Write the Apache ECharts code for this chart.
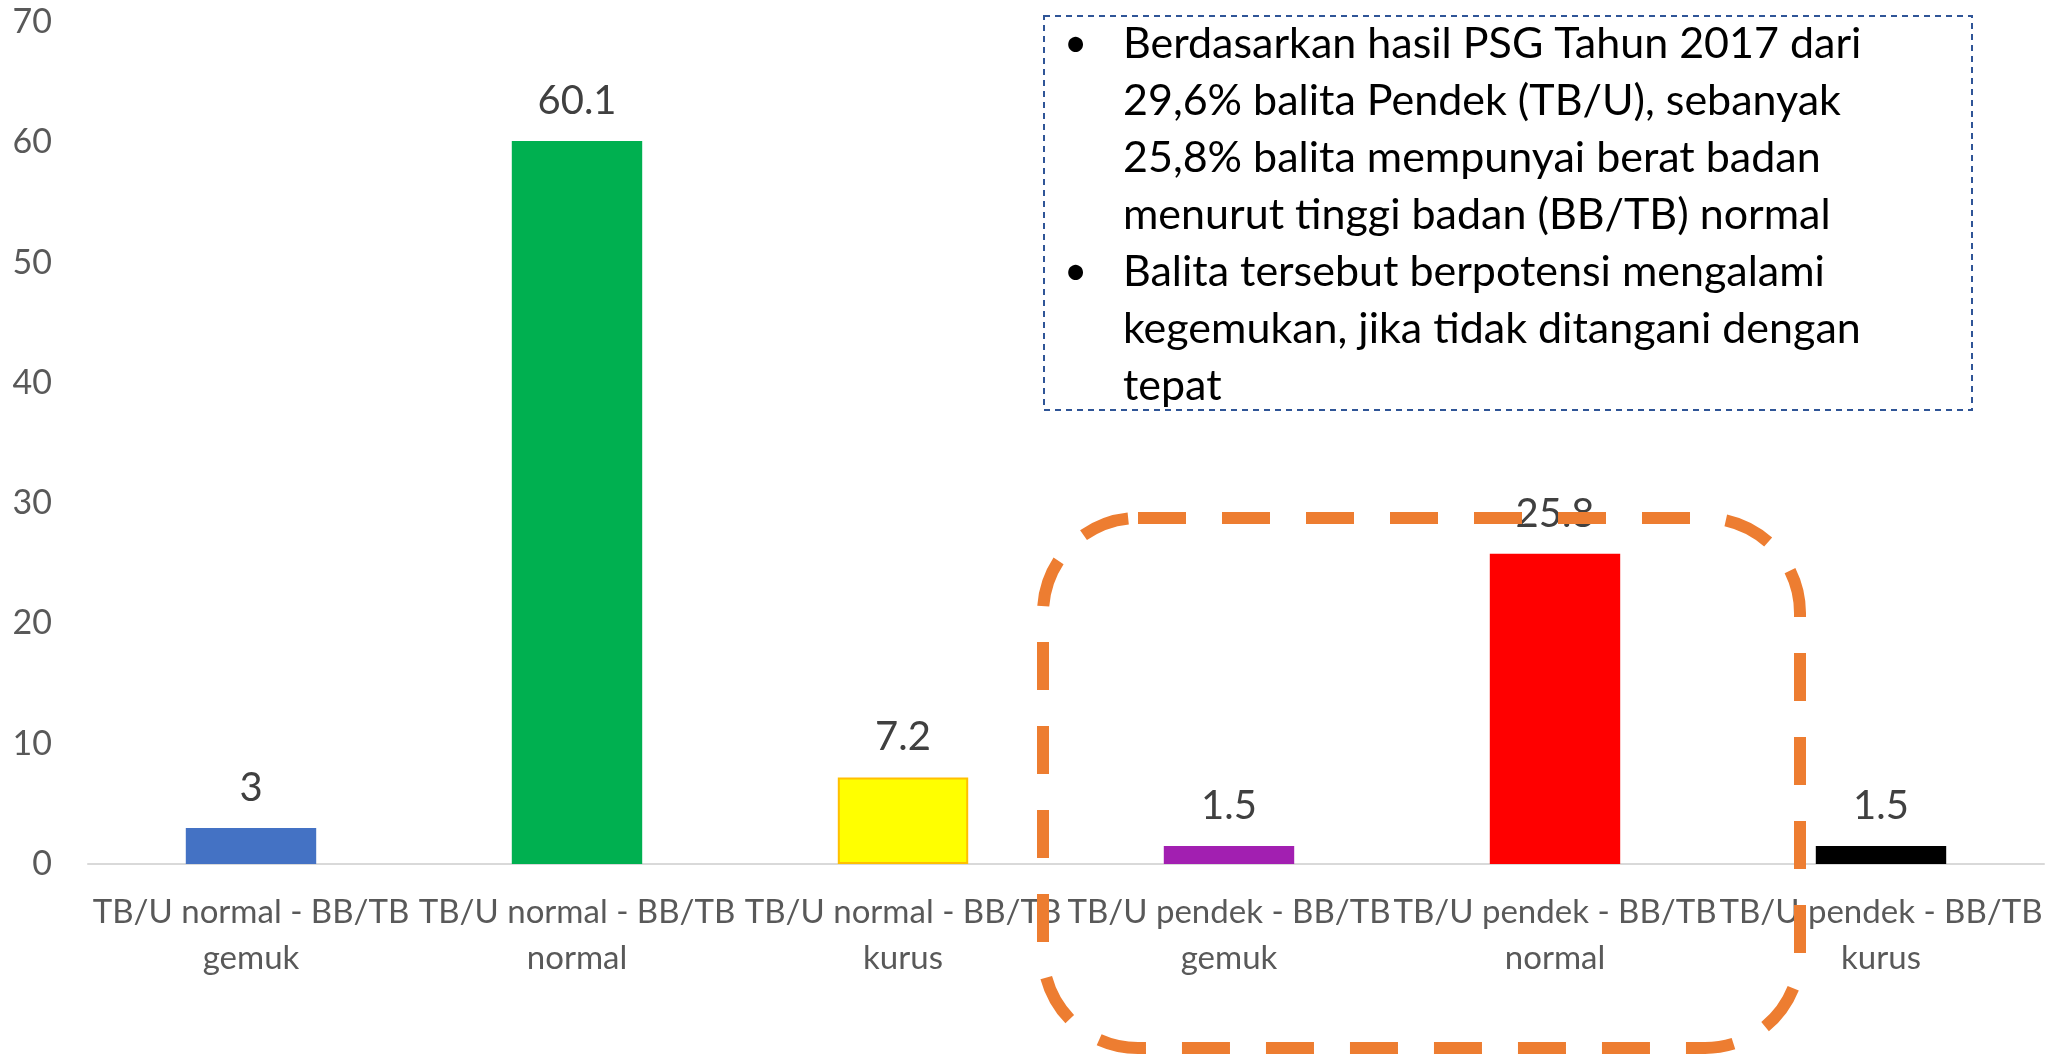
<!DOCTYPE html>
<html><head><meta charset="utf-8">
<script src="https://cdn.jsdelivr.net/npm/echarts@6/dist/echarts.min.js"></script>
<style>html,body{margin:0;padding:0;background:#fff}#c{width:2054px;height:1056px}</style>
</head><body><div id="c"></div>
<script>
const categories = [
  "TB/U normal - BB/TB gemuk",
  "TB/U normal - BB/TB normal",
  "TB/U normal - BB/TB kurus",
  "TB/U pendek - BB/TB gemuk",
  "TB/U pendek - BB/TB normal",
  "TB/U pendek - BB/TB kurus"
];
const values = [3, 60.1, 7.2, 1.5, 25.8, 1.5];
const barColors = ["#4472C4", "#00B050", "#FFFF00", "#A21FB1", "#FF0000", "#000000"];
const yTicks = [0, 10, 20, 30, 40, 50, 60, 70];
const noteLines = [
  "Berdasarkan hasil PSG Tahun 2017 dari",
  "29,6% balita Pendek (TB/U), sebanyak",
  "25,8% balita mempunyai berat badan",
  "menurut tinggi badan (BB/TB) normal",
  "Balita tersebut berpotensi mengalami",
  "kegemukan, jika tidak ditangani dengan",
  "tepat"
];
const bulletLineIdx = [0, 4];

const FONT = "Lato";
const chart = echarts.init(document.getElementById('c'), null, {renderer: 'canvas'});

const noteX = 1044, noteY = 16, noteW = 928, noteH = 394;
const lineH = 57, firstLineY = 44;
const graphics = [];
graphics.push({
  type: 'rect', z: 100,
  shape: {x: noteX, y: noteY, width: noteW, height: noteH},
  style: {fill: 'rgba(255,255,255,0)', stroke: '#2F5597', lineWidth: 2, lineDash: [6, 5]}
});
noteLines.forEach((t, i) => {
  graphics.push({
    type: 'text', z: 101,
    x: 1123, y: firstLineY + i * lineH,
    style: {text: t, font: '43px ' + FONT, fill: '#000', verticalAlign: 'middle'}
  });
  if (bulletLineIdx.includes(i)) {
    graphics.push({
      type: 'text', z: 101,
      x: 1064, y: firstLineY + i * lineH,
      style: {text: '•', font: '40px ' + FONT, fill: '#000', verticalAlign: 'middle'}
    });
  }
});
graphics.push({
  type: 'rect', z: 120,
  shape: {x: 1043, y: 518, width: 757, height: 530, r: 95},
  style: {fill: 'rgba(0,0,0,0)', stroke: '#ED7D31', lineWidth: 12, lineDash: [48, 36]}
});

chart.setOption({
  animation: false,
  backgroundColor: '#fff',
  grid: {left: 88, right: 10, top: 22, bottom: 192, containLabel: false},
  xAxis: {
    type: 'category',
    data: categories,
    axisLine: {show: true, lineStyle: {color: '#D9D9D9', width: 2}},
    axisTick: {show: false},
    axisLabel: {
      interval: 0, margin: 25, color: '#595959', fontFamily: FONT, fontSize: 33, lineHeight: 46,
      formatter: v => { const k = v.lastIndexOf(' '); return v.slice(0, k) + '\n' + v.slice(k + 1); }
    }
  },
  yAxis: {
    type: 'value', min: yTicks[0], max: yTicks[yTicks.length - 1], interval: 10,
    axisLine: {show: false}, axisTick: {show: false},
    splitLine: {show: false},
    axisLabel: {margin: 36, color: '#595959', fontFamily: FONT, fontSize: 34}
  },
  series: [{
    type: 'bar',
    barWidth: '40%',
    data: values.map((v, i) => ({
      value: v,
      itemStyle: {color: barColors[i], borderColor: i === 2 ? '#FFC000' : barColors[i], borderWidth: i === 2 ? 2 : 0}
    })),
    label: {show: true, position: 'top', distance: 20, color: '#404040', fontFamily: FONT, fontSize: 40}
  }],
  graphic: graphics
});
</script></body></html>
